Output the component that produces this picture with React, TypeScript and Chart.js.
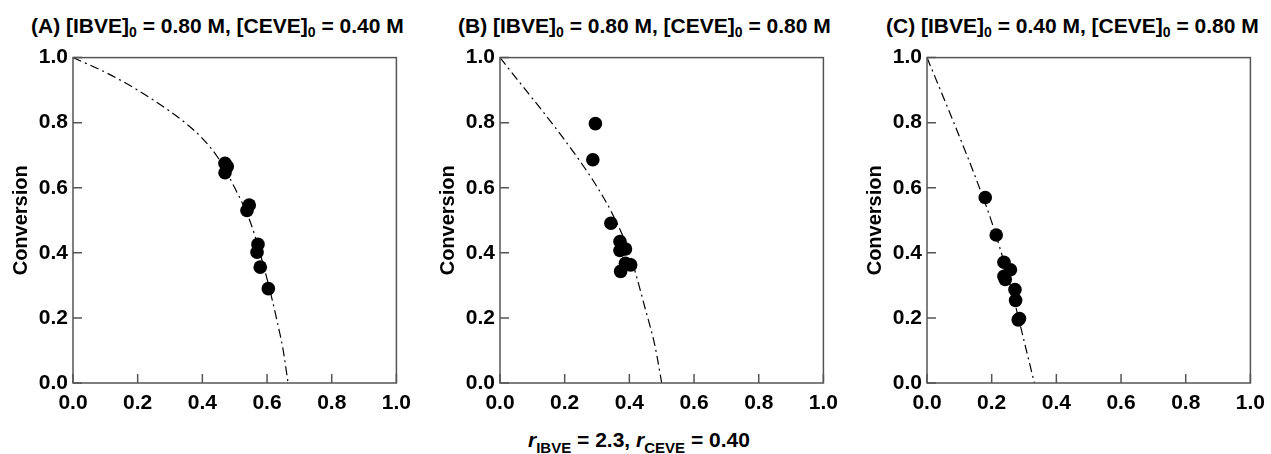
import React, { useEffect, useRef } from 'react';
import Chart from 'chart.js/auto';

// shared axis ticks
const axisTicks: number[] = [0, 0.2, 0.4, 0.6, 0.8, 1.0];

// (A) [IBVE]0 = 0.80 M, [CEVE]0 = 0.40 M
const pointsAx: number[] = [0.470, 0.477, 0.470, 0.545, 0.538, 0.572, 0.569, 0.579, 0.604];
const pointsAy: number[] = [0.675, 0.665, 0.646, 0.547, 0.530, 0.426, 0.402, 0.356, 0.290];
const curveAx: number[] = [0, 0.1, 0.2, 0.3, 0.35, 0.4, 0.45, 0.5, 0.55, 0.6, 0.63, 0.65, 0.665];
const curveAy: number[] = [1.0, 0.955, 0.9, 0.835, 0.797, 0.752, 0.69, 0.6, 0.49, 0.32, 0.195, 0.1, 0.0];

// (B) [IBVE]0 = 0.80 M, [CEVE]0 = 0.80 M
const pointsBx: number[] = [0.295, 0.287, 0.343, 0.371, 0.371, 0.388, 0.388, 0.404, 0.373];
const pointsBy: number[] = [0.797, 0.686, 0.491, 0.435, 0.407, 0.412, 0.368, 0.363, 0.343];
const curveBx: number[] = [0, 0.05, 0.1, 0.15, 0.2, 0.25, 0.3, 0.35, 0.4, 0.45, 0.48, 0.5];
const curveBy: number[] = [1.0, 0.937, 0.875, 0.812, 0.747, 0.678, 0.603, 0.515, 0.40, 0.225, 0.11, 0.0];

// (C) [IBVE]0 = 0.40 M, [CEVE]0 = 0.80 M
const pointsCx: number[] = [0.180, 0.214, 0.238, 0.258, 0.238, 0.242, 0.272, 0.274, 0.282, 0.286];
const pointsCy: number[] = [0.570, 0.455, 0.371, 0.348, 0.328, 0.318, 0.287, 0.254, 0.194, 0.198];
const curveCx: number[] = [0, 0.05, 0.1, 0.15, 0.2, 0.25, 0.3, 0.332];
const curveCy: number[] = [1.0, 0.88, 0.758, 0.632, 0.495, 0.33, 0.13, 0.0];

const FONT = "'Liberation Sans', Arial, Helvetica, sans-serif";
const AXIS_W = 73;
const PLOT_W = 328;
const PAD_R = 18;
const PAD_T = 17;
const PLOT_H = 326;
const XAXIS_H = 37;

const zip = (xs: number[], ys: number[]) => xs.map((x, i) => ({ x, y: ys[i] }));

// frame and inward tick marks
const framePlugin = {
    id: 'frame',
    afterDraw(chart: any) {
        const { ctx, chartArea } = chart;
        const xs = chart.scales.x;
        const ys = chart.scales.y;
        ctx.save();
        ctx.strokeStyle = '#555';
        ctx.lineWidth = 1.5;
        ctx.strokeRect(chartArea.left, chartArea.top, chartArea.right - chartArea.left, chartArea.bottom - chartArea.top);
        ctx.beginPath();
        axisTicks.forEach(t => {
            const px = xs.getPixelForValue(t);
            ctx.moveTo(px, chartArea.bottom);
            ctx.lineTo(px, chartArea.bottom - 9);
            const py = ys.getPixelForValue(t);
            ctx.moveTo(chartArea.left, py);
            ctx.lineTo(chartArea.left + 9, py);
        });
        ctx.stroke();
        ctx.restore();
    },
};

interface PanelProps {
    left: number;
    px: number[];
    py: number[];
    cx: number[];
    cy: number[];
}

const Panel: React.FC<PanelProps> = ({ left, px, py, cx, cy }) => {
    const canvasRef = useRef<HTMLCanvasElement | null>(null);

    useEffect(() => {
        if (!canvasRef.current) return;
        const tickFont = { family: FONT, size: 21, weight: 'bold' as const };
        const chart = new Chart(canvasRef.current, {
            type: 'scatter',
            data: {
                datasets: [
                    {
                        data: zip(px, py),
                        backgroundColor: '#000',
                        borderWidth: 0,
                        pointRadius: 6.8,
                        pointHoverRadius: 6.8,
                    },
                    {
                        data: zip(cx, cy),
                        showLine: true,
                        borderColor: '#000',
                        borderWidth: 1.2,
                        borderDash: [9, 4, 2, 4],
                        pointRadius: 0,
                        cubicInterpolationMode: 'monotone',
                    } as any,
                ],
            },
            options: {
                animation: false,
                responsive: true,
                maintainAspectRatio: false,
                layout: { padding: { top: PAD_T, right: PAD_R, left: 0, bottom: 0 } },
                plugins: { legend: { display: false }, tooltip: { enabled: false } },
                scales: {
                    x: {
                        type: 'linear',
                        min: 0,
                        max: 1,
                        afterBuildTicks: (s: any) => { s.ticks = axisTicks.map(v => ({ value: v })); },
                        afterFit: (s: any) => { s.height = XAXIS_H; },
                        ticks: {
                            callback: (v: any) => Number(v).toFixed(1),
                            font: tickFont,
                            color: '#000',
                            padding: 8,
                            maxRotation: 0,
                            autoSkip: false,
                        },
                        grid: { display: false, drawTicks: false },
                        border: { display: false },
                    },
                    y: {
                        type: 'linear',
                        min: 0,
                        max: 1,
                        afterBuildTicks: (s: any) => { s.ticks = axisTicks.map(v => ({ value: v })); },
                        afterFit: (s: any) => { s.width = AXIS_W; },
                        ticks: {
                            callback: (v: any) => Number(v).toFixed(1),
                            font: tickFont,
                            color: '#000',
                            padding: 5,
                            autoSkip: false,
                        },
                        title: {
                            display: true,
                            text: 'Conversion',
                            font: { family: FONT, size: 20, weight: 'bold' as const },
                            color: '#000',
                            padding: { top: 9, bottom: 0 },
                        },
                        grid: { display: false, drawTicks: false },
                        border: { display: false },
                    },
                },
            },
            plugins: [framePlugin],
        });
        return () => chart.destroy();
    }, [left, px, py, cx, cy]);

    return (
        <div style={{ position: 'absolute', left, top: 40, width: AXIS_W + PLOT_W + PAD_R, height: PAD_T + PLOT_H + XAXIS_H }}>
            <canvas ref={canvasRef} />
        </div>
    );
};

const sub: React.CSSProperties = { fontSize: 14, verticalAlign: -4, lineHeight: 0 };
const titleStyle: React.CSSProperties = {
    position: 'absolute',
    top: 14,
    fontFamily: FONT,
    fontWeight: 'bold',
    fontSize: 21,
    lineHeight: '24px',
    whiteSpace: 'nowrap',
    color: '#000',
};

const App: React.FC = () => {
    return (
        <div style={{ position: 'fixed', left: 0, top: 0, width: 1271, height: 454, background: '#fff', overflow: 'hidden' }}>
            <div style={{ ...titleStyle, left: 31 }}>
                (A) [IBVE]<span style={sub}>0</span> = 0.80 M, [CEVE]<span style={sub}>0</span> = 0.40 M
            </div>
            <div style={{ ...titleStyle, left: 458 }}>
                (B) [IBVE]<span style={sub}>0</span> = 0.80 M, [CEVE]<span style={sub}>0</span> = 0.80 M
            </div>
            <div style={{ ...titleStyle, left: 886 }}>
                (C) [IBVE]<span style={sub}>0</span> = 0.40 M, [CEVE]<span style={sub}>0</span> = 0.80 M
            </div>
            <Panel left={0} px={pointsAx} py={pointsAy} cx={curveAx} cy={curveAy} />
            <Panel left={427} px={pointsBx} py={pointsBy} cx={curveBx} cy={curveBy} />
            <Panel left={854} px={pointsCx} py={pointsCy} cx={curveCx} cy={curveCy} />
            <div style={{ ...titleStyle, top: 428, left: 528 }}>
                <i>r</i><span style={{ ...sub, fontSize: 15, verticalAlign: -6 }}>IBVE</span> = 2.3, <i>r</i>
                <span style={{ ...sub, fontSize: 15, verticalAlign: -6 }}>CEVE</span> = 0.40
            </div>
        </div>
    );
};

export default App;
